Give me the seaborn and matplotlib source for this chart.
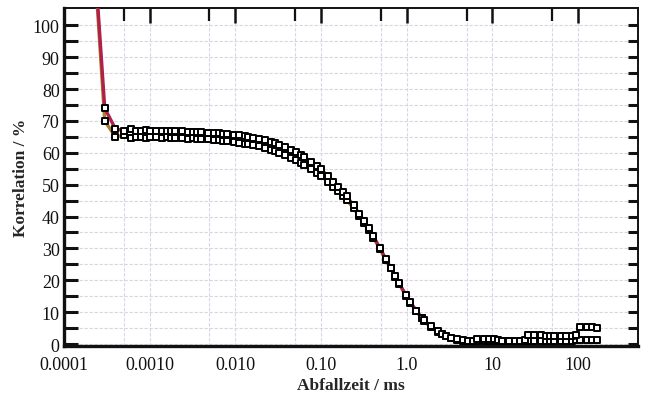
import numpy as np
import pandas as pd
import matplotlib
matplotlib.use("Agg")
import matplotlib.pyplot as plt
from matplotlib.ticker import FixedLocator, NullFormatter
import seaborn as sns

# Abfallzeit in ms
tau = [0.00030, 0.00040, 0.00050, 0.00060, 0.00070, 0.00080, 0.00090, 0.0010,
       0.0012, 0.0014, 0.0016, 0.0018, 0.0020, 0.0024, 0.0028, 0.0032, 0.0036,
       0.0040, 0.0048, 0.0056, 0.0064, 0.0072, 0.0080, 0.0096, 0.011, 0.013,
       0.014, 0.016, 0.019, 0.022, 0.026, 0.029, 0.032, 0.038, 0.045, 0.051,
       0.058, 0.064, 0.077, 0.090, 0.10, 0.12, 0.14, 0.16, 0.18, 0.20, 0.24,
       0.28, 0.32, 0.36, 0.41, 0.49, 0.57, 0.65, 0.74, 0.82, 0.98, 1.1, 1.3,
       1.5, 1.6, 1.9, 2.3, 2.6, 2.9, 3.3, 3.9, 4.6, 5.2, 5.9, 6.6, 7.9, 9.2,
       10.5, 11.8, 13.1, 15.7, 18.4, 21, 24, 26, 31, 37, 42, 47, 52, 63, 73,
       84, 94, 105, 126, 147, 168]

# Messung 1 (obere Kurve), Korrelation in %
korr_1 = [74, 67.5, 67, 67.5, 67, 67, 67.2, 67,
          67, 66.8, 67, 66.8, 66.7, 66.8, 66.6, 66.5, 66.6,
          66.4, 66.3, 66.2, 66.1, 66, 65.9, 65.7, 65.5, 65.2,
          65, 64.8, 64.4, 64, 63.5, 63, 62.6, 61.8, 61, 60.2,
          59.3, 58.6, 57.2, 55.8, 54.8, 52.8, 51, 49.3, 47.7, 46.3, 43.5,
          40.8, 38.5, 36.3, 33.8, 30, 26.8, 24, 21.2, 19, 15.4, 13.2, 10.5,
          8.3, 7.4, 5.6, 4.0, 3.2, 2.6, 2.0, 1.5, 1.2, 1.0, 1.0, 1.6, 1.7, 1.6,
          1.5, 1.2, 1.1, 1.0, 1.0, 1.0, 1.2, 2.8, 2.8, 2.7, 2.6, 2.6, 2.5, 2.5, 2.6,
          2.6, 2.8, 5.2, 5.3, 5.2, 5.0]

# Messung 2 (untere Kurve)
korr_2 = [70, 65, 65.5, 64.8, 65, 65, 64.8, 65,
          64.9, 64.8, 64.9, 64.7, 64.5, 64.6, 64.4, 64.5, 64.3,
          64.3, 64.2, 64, 63.9, 63.8, 63.6, 63.5, 63.2, 62.9,
          62.7, 62.4, 62, 61.6, 61, 60.6, 60.1, 59.3, 58.5, 57.8,
          56.9, 56.3, 55, 53.7, 52.8, 51, 49.4, 47.9, 46.5, 45.2, 42.6,
          40.1, 37.9, 35.8, 33.4, 29.7, 26.5, 23.7, 21, 18.8, 15.2, 13, 10.3,
          8.1, 7.2, 5.4, 3.8, 3.0, 2.4, 1.8, 1.3, 1.0, 0.8, 0.8, 0.8, 0.9, 0.9,
          1.0, 1.0, 0.9, 0.9, 0.9, 0.9, 0.8, 0.9, 1.0, 1.0, 1.1, 1.0, 1.1, 1.0, 1.0,
          1.1, 1.2, 1.4, 1.3, 1.2, 1.2]

# erster Kanal (ausserhalb des Bildes)
tau_start = [0.00023]
korr_1_start = [120]
korr_2_start = [118]

# rote Punkte am Ende
tau_rest = [26, 31, 37, 42, 47, 52, 63, 73, 84, 94, 105, 126, 147, 168]
korr_rest = [0.6, 0.7, 0.8, 0.9, 0.8, 1.0, 1.1, 1.2, 1.0, 1.3, 1.5, 1.4, 1.3, 1.2]

df1 = pd.DataFrame({"tau": tau_start + tau, "korr": korr_1_start + korr_1})
df2 = pd.DataFrame({"tau": tau_start + tau, "korr": korr_2_start + korr_2})

sns.set_style("white")
plt.rcParams["font.family"] = ["Liberation Serif", "DejaVu Serif"]

fig = plt.figure(figsize=(6.45, 4.02), dpi=100)
ax = fig.add_axes([0.099, 0.137, 0.890, 0.841])

sns.lineplot(data=df2, x="tau", y="korr", color="#a8822a", lw=2.4, sort=False,
             estimator=None, ax=ax, zorder=3)
sns.lineplot(data=df1, x="tau", y="korr", color="#b0204a", lw=2.4, sort=False,
             estimator=None, ax=ax, zorder=3)
sns.scatterplot(x=tau_rest, y=korr_rest, marker="s", s=12, color="#a01020",
                edgecolor="#601010", linewidth=0.8, ax=ax, zorder=4)
sns.scatterplot(x=tau, y=korr_2, marker="s", s=16, facecolor="white",
                edgecolor="black", linewidth=1.4, ax=ax, zorder=5)
sns.scatterplot(x=tau, y=korr_1, marker="s", s=16, facecolor="white",
                edgecolor="black", linewidth=1.4, ax=ax, zorder=5)

ax.set_xscale("log")
ax.set_xlim(1e-4, 500)
ax.set_ylim(-0.6, 105.5)

major_x = [1e-4, 1e-3, 1e-2, 1e-1, 1, 10, 100]
minor_x = [5e-4, 5e-3, 5e-2, 0.5, 5, 50]
ax.xaxis.set_major_locator(FixedLocator(major_x))
ax.set_xticklabels(["0.0001", "0.0010", "0.010", "0.10", "1.0", "10", "100"])
ax.xaxis.set_minor_locator(FixedLocator(minor_x))
ax.xaxis.set_minor_formatter(NullFormatter())

ax.yaxis.set_major_locator(FixedLocator(list(range(0, 101, 10))))
ax.yaxis.set_minor_locator(FixedLocator(list(range(5, 101, 10))))

grid_kw = dict(color="#dcd3e6", lw=0.8, ls=(0, (3, 1.5)))
ax.grid(True, which="both", axis="x", **grid_kw)
ax.grid(True, which="both", axis="y", **grid_kw)
ax.set_axisbelow(True)

ax.tick_params(axis="both", which="both", direction="in", top=True, right=True,
               colors="#111111", labelsize=13)
ax.tick_params(axis="x", which="major", length=11, width=1.8, pad=7)
ax.tick_params(axis="x", which="minor", length=9, width=1.6)
ax.tick_params(axis="y", which="both", length=10, width=2.2, pad=3)
ax.tick_params(axis="y", which="both", right=False)

# kurze Striche rechts
ax2 = ax.twinx()
ax2.set_ylim(ax.get_ylim())
ax2.yaxis.set_major_locator(FixedLocator(list(range(0, 101, 5))))
ax2.tick_params(axis="y", direction="in", length=7, width=2.2, labelright=False,
                colors="#111111")
ax2.grid(False)
for s in ax2.spines.values():
    s.set_visible(False)

for side in ["left", "bottom"]:
    ax.spines[side].set_linewidth(2.4)
for side in ["top", "right"]:
    ax.spines[side].set_linewidth(1.4)
for s in ax.spines.values():
    s.set_color("#111111")

ax.set_xlabel("Abfallzeit / ms", fontsize=12.5, fontweight="bold", labelpad=3)
ax.set_ylabel("Korrelation / %", fontsize=12.5, fontweight="bold", labelpad=3)

fig.savefig("out.png", dpi=100)
